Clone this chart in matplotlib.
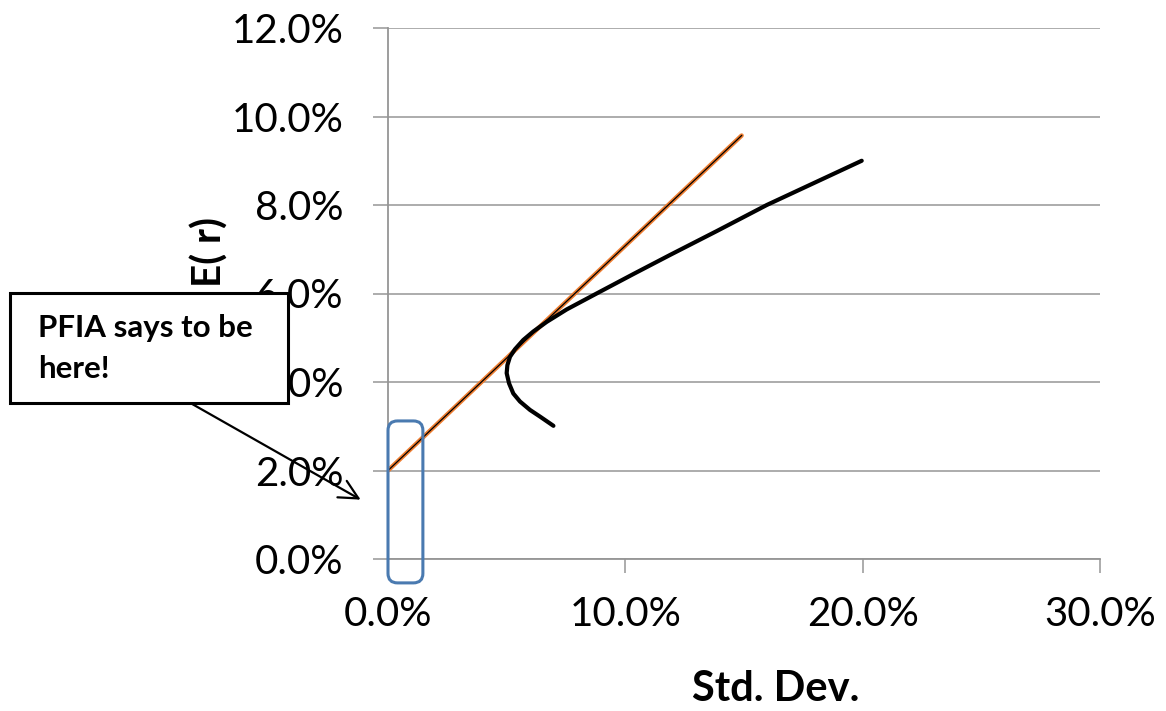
import matplotlib
matplotlib.use("Agg")
import matplotlib.pyplot as plt
from matplotlib.patches import Rectangle, FancyBboxPatch
from matplotlib.ticker import PercentFormatter

plt.rcParams['font.family'] = ['Lato', 'DejaVu Sans']

# efficient frontier (std dev %, expected return %)
frontier_sd = [6.97, 6.40, 5.98, 5.56, 5.28, 5.10, 5.00, 5.03, 5.14, 5.35, 5.70,
               6.12, 6.69, 7.53, 8.79, 10.34, 11.88, 13.85, 15.96, 17.92, 19.96]
frontier_er = [3.01, 3.22, 3.37, 3.56, 3.74, 3.97, 4.20, 4.38, 4.57, 4.74, 4.95,
               5.14, 5.36, 5.64, 6.00, 6.44, 6.87, 7.41, 8.00, 8.49, 9.00]

# capital market line
cml_sd = [0.0, 14.9]
cml_er = [2.0, 9.57]

x_ticks = [0, 10, 20, 30]
y_ticks = [0, 2, 4, 6, 8, 10, 12]

note_text = "PFIA says to be\nhere!"

fig = plt.figure(figsize=(11.66, 7.11), dpi=100)
ax = fig.add_axes([388/1166, 1 - 559/711, 712/1166, 531/711])

grey = '#959595'
ax.set_xlim(0, 30)
ax.set_ylim(0, 12)
ax.set_xticks(x_ticks)
ax.set_yticks(y_ticks)
ax.xaxis.set_major_formatter(PercentFormatter(100, decimals=1))
ax.yaxis.set_major_formatter(PercentFormatter(100, decimals=1))
ax.grid(axis='y', color='#a6a6a6', lw=1.3)
ax.set_axisbelow(True)
for s in ['top', 'right']:
    ax.spines[s].set_visible(False)
for s in ['left', 'bottom']:
    ax.spines[s].set_color(grey)
    ax.spines[s].set_linewidth(1.3)
ax.tick_params(axis='y', length=11, width=1.3, color='#a6a6a6', labelsize=29, pad=21)
ax.tick_params(axis='x', length=10, width=1.3, color='#a6a6a6', labelsize=29, pad=17)

ax.plot(cml_sd, cml_er, color='#ed7d31', lw=3.2, solid_capstyle='round', zorder=3)
ax.plot(cml_sd, cml_er, color='black', lw=0.9, zorder=4)
ax.plot(frontier_sd, frontier_er, color='black', lw=3.0, solid_capstyle='round', zorder=4)

ax.set_xlabel("Std. Dev.", fontsize=30, fontweight='bold')
ax.xaxis.set_label_coords(0.545, -0.245)
ax.xaxis.label.set_va('center')
ax.set_ylabel("E( r)", fontsize=29, fontweight='bold')
ax.yaxis.set_label_coords(-0.25, 0.578)
ax.yaxis.label.set_va('center')

# blue rounded marker around the zero-risk region
blob = FancyBboxPatch((0.0, -0.54), 1.47, 3.66,
                      boxstyle="round,pad=0,rounding_size=0.4",
                      mutation_aspect=23.73/44.25,
                      fill=False, ec='#4a7ab0', lw=2.2, clip_on=False, zorder=6)
ax.add_patch(blob)

# callout box
box = Rectangle((-0.5309, 0.2938), 0.3905, 0.2071, transform=ax.transAxes,
                fc='white', ec='black', lw=2.2, clip_on=False, zorder=10)
ax.add_patch(box)
ax.text(-0.4916, 0.397, note_text, transform=ax.transAxes, fontsize=22.5,
        fontweight='bold', ha='left', va='center', linespacing=1.55, zorder=11)
ax.annotate("", xy=(-1.05, 1.31), xytext=(-8.34, 3.53),
            arrowprops=dict(arrowstyle='->', color='black', lw=1.6, mutation_scale=34),
            annotation_clip=False, zorder=9)

fig.savefig("out.png", dpi=100)
